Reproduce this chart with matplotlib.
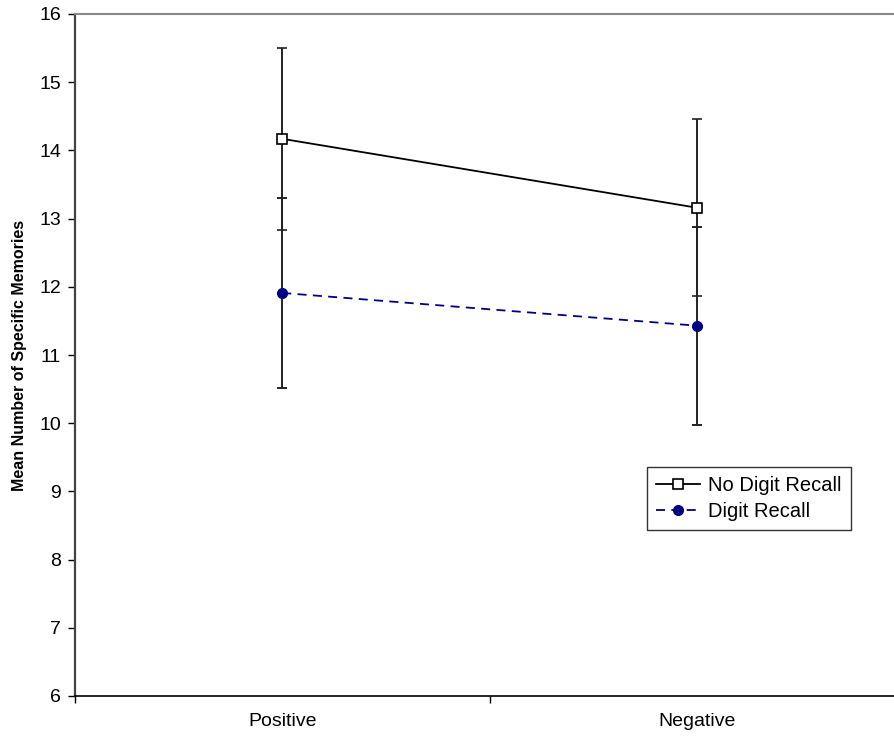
import matplotlib.pyplot as plt
from matplotlib.lines import Line2D
import numpy as np

plt.rcParams['font.family'] = ['Liberation Sans', 'DejaVu Sans']

categories = ['Positive', 'Negative']
no_digit_mean = [14.17, 13.16]
no_digit_err = [1.33, 1.30]
digit_mean = [11.91, 11.43]
digit_err = [1.39, 1.45]

x = np.arange(len(categories)) + 0.5

fig = plt.figure(figsize=(8.94, 7.4), dpi=100)
ax = fig.add_axes([75 / 894, 44 / 740, 829 / 894, 682 / 740])

ax.errorbar(x, no_digit_mean, yerr=no_digit_err, color='black', lw=1.3,
            marker='s', ms=7, mfc='white', mec='black', mew=1.2,
            ecolor='#222222', elinewidth=1.4, capsize=3.3, capthick=1.4,
            zorder=3)
ax.errorbar(x, digit_mean, yerr=digit_err, color='#000080', lw=1.3,
            ls=(0, (5, 3.5)), marker='o', ms=7, mfc='#000080', mec='#000080',
            ecolor='#222222', elinewidth=1.4, capsize=3.3, capthick=1.4,
            zorder=3)

ax.set_xlim(0, 2)
ax.set_ylim(6, 16)
ax.set_yticks(range(6, 17))
ax.tick_params(axis='y', direction='out', length=5, width=1, labelsize=14, pad=5)

# tick marks between categories, labels centred under them
ax.set_xticks([0, 1, 2])
ax.set_xticklabels([])
ax.set_xticks(x, minor=True)
ax.set_xticklabels(categories, minor=True)
ax.tick_params(axis='x', which='major', direction='out', length=5, width=1)
ax.tick_params(axis='x', which='minor', length=0, labelsize=14, pad=12)

ax.spines['left'].set_color('#444444')
ax.spines['left'].set_linewidth(1.6)
ax.spines['top'].set_color('#888888')
ax.spines['top'].set_linewidth(1.5)
ax.spines['bottom'].set_color('black')
ax.spines['bottom'].set_linewidth(1.2)
ax.spines['right'].set_color('#888888')

ax.set_ylabel('Mean Number of Specific Memories', fontsize=11.5,
              fontweight='bold', labelpad=9)

handles = [
    Line2D([], [], color='black', lw=1.3, marker='s', ms=7, mfc='white',
           mec='black', mew=1.2),
    Line2D([], [], color='#000080', lw=1.3, ls=(0, (5, 3.5)), marker='o',
           ms=7, mfc='#000080', mec='#000080'),
]
leg = ax.legend(handles, ['No Digit Recall', 'Digit Recall'],
                loc='upper left', bbox_to_anchor=(647 / 894, 1 - 467 / 740),
                bbox_transform=fig.transFigure, fontsize=14.5, frameon=True,
                fancybox=False, edgecolor='black', handlelength=2.2,
                borderpad=0.45, labelspacing=0.35, handletextpad=0.4,
                borderaxespad=0)
leg.get_frame().set_linewidth(1.0)

fig.savefig('out.png', dpi=100)
